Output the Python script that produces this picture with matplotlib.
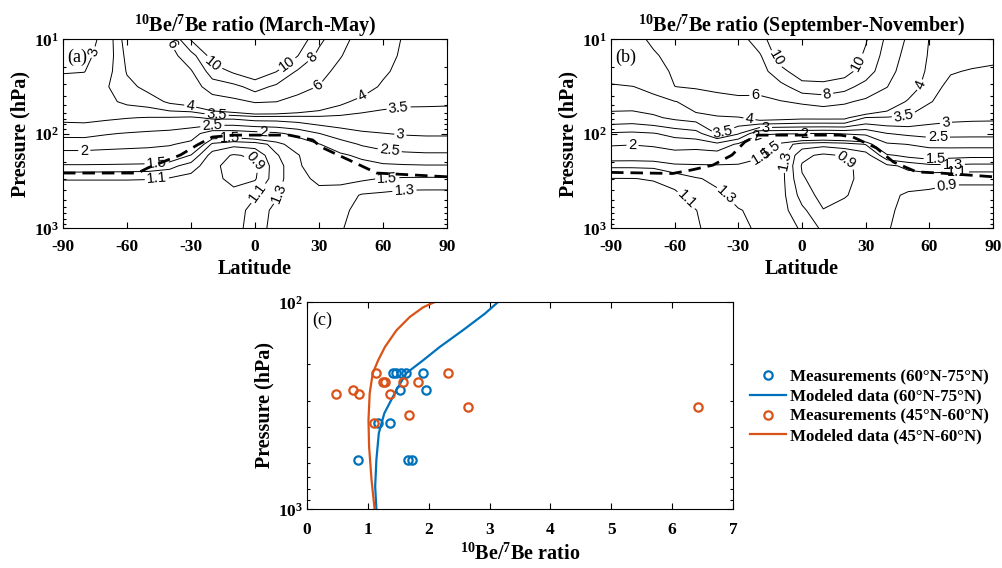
import numpy as np
import matplotlib.pyplot as plt
from matplotlib.ticker import LogLocator, NullFormatter

# Times-like bold for axis text, Arial-like for contour labels
plt.rcParams['font.family'] = ['Liberation Sans', 'DejaVu Sans']
plt.rcParams['mathtext.fontset'] = 'custom'
plt.rcParams['mathtext.rm'] = 'Liberation Serif:bold'
plt.rcParams['mathtext.it'] = 'Liberation Serif:bold'
plt.rcParams['mathtext.bf'] = 'Liberation Serif:bold'
plt.rcParams['axes.unicode_minus'] = False
serif = 'Liberation Serif'

# ---------------- zonal mean 10Be/7Be ratio ----------------
lat = [-90, -80, -70, -60, -50, -40, -30, -20, -10, 0, 10, 20, 30, 40, 50, 60, 70, 80, 90]
pres = [10, 15, 22, 32, 46, 68, 100, 130, 170, 220, 300, 450, 650, 1000]
levels = [0.9, 1.1, 1.3, 1.5, 2, 2.5, 3, 3.5, 4, 6, 8, 10]

# March-May, one row per pressure level
ratio_mam = [
    [2.7, 2.88, 3.08, 4.3, 4.8, 6.05, 10.2, 12.5, 13.5, 14, 13, 11.5, 8.5, 6.6, 5.3, 4.5, 3.9, 3.8, 3.75],
    [2.85, 2.93, 3.12, 4.15, 4.6, 5.3, 7.13, 10.9, 12.0, 13, 12, 10.05, 7.4, 6.1, 5.0, 4.3, 3.85, 3.75, 3.7],
    [2.97, 2.99, 3.25, 4.04, 4.4, 4.8, 5.81, 8.9, 10.3, 11.2, 10.05, 7.74, 6.66, 5.44, 4.7, 4.1, 3.8, 3.7, 3.65],
    [3.2, 3.2, 3.44, 3.85, 4.15, 4.4, 5.05, 6.9, 7.38, 8.8, 7.57, 6.69, 5.89, 4.78, 4.3, 3.9, 3.7, 3.65, 3.6],
    [3.3, 3.32, 3.38, 3.6, 3.73, 4.1, 4.32, 5.0, 5.51, 6.15, 6.02, 5.3, 4.66, 4.15, 3.81, 3.64, 3.57, 3.56, 3.55],
    [3.12, 3.14, 3.08, 3.02, 2.98, 2.97, 2.92, 3.1, 3.11, 3.24, 3.24, 3.3, 3.375, 3.37, 3.34, 3.33, 3.33, 3.34, 3.34],
    [2.64, 2.65, 2.54, 2.47, 2.41, 2.35, 2.22, 1.71, 1.7, 1.8, 1.91, 2.14, 2.49, 2.76, 2.93, 2.99, 3.04, 3.06, 3.06],
    [2.22, 2.22, 2.17, 2.13, 2.1, 2.04, 1.88, 1.257, 1.156, 1.19, 1.38, 1.7, 1.98, 2.27, 2.55, 2.68, 2.74, 2.77, 2.77],
    [1.81, 1.81, 1.79, 1.775, 1.75, 1.69, 1.49, 1.0, 0.88, 0.94, 1.28, 1.47, 1.84, 1.92, 2.1, 2.3, 2.38, 2.41, 2.41],
    [1.456, 1.456, 1.45, 1.44, 1.43, 1.37, 1.2, 0.96, 0.8, 0.85, 1.22, 1.45, 1.7, 1.75, 1.82, 1.91, 1.94, 1.96, 1.96],
    [1.108, 1.108, 1.108, 1.108, 1.105, 1.08, 1.02, 0.95, 0.85, 0.88, 1.22, 1.45, 1.535, 1.54, 1.53, 1.49, 1.45, 1.44, 1.44],
    [1.0, 1.0, 1.0, 1.0, 1.0, 0.99, 0.98, 0.98, 0.96, 1.09, 1.28, 1.46, 1.44, 1.42, 1.28, 1.25, 1.22, 1.22, 1.22],
    [0.98, 0.98, 0.98, 0.98, 0.98, 0.97, 0.98, 1.0, 1.0, 1.18, 1.36, 1.47, 1.42, 1.36, 1.22, 1.2, 1.2, 1.2, 1.2],
    [1.0, 1.0, 1.0, 1.0, 1.0, 1.0, 1.0, 1.02, 1.02, 1.2, 1.38, 1.47, 1.42, 1.32, 1.2, 1.2, 1.18, 1.18, 1.18],
]

# September-November
ratio_son = [
    [4.9, 5.3, 6.4, 7.0, 7.2, 7.5, 7.2, 9.0, 12, 13.5, 13.5, 12.5, 10.2, 7.6, 5.7, 3.95, 3.75, 3.7, 3.68],
    [4.6, 4.9, 5.71, 6.8, 7.0, 7.2, 7.0, 7.75, 11, 12.5, 12.5, 11.8, 9.6, 7.2, 5.3, 3.85, 3.62, 3.58, 3.55],
    [4.3, 4.5, 4.94, 6.4, 6.7, 6.9, 6.9, 7.09, 9.37, 11.2, 11.2, 10.8, 8.9, 6.8, 4.9, 3.75, 3.52, 3.48, 3.46],
    [3.92, 3.98, 4.18, 5.98, 6.2, 6.5, 6.7, 6.43, 7.33, 9.08, 9.3, 8.64, 7.27, 6.05, 4.45, 3.62, 3.42, 3.38, 3.38],
    [3.7, 3.72, 3.78, 3.94, 4.5, 5.06, 5.42, 5.62, 5.9, 6.28, 6.67, 6.28, 5.59, 4.65, 3.9, 3.53, 3.32, 3.3, 3.28],
    [3.34, 3.3, 3.42, 3.6, 3.71, 3.85, 3.93, 4.32, 4.24, 4.15, 4.16, 4.15, 3.48, 3.45, 3.43, 3.2, 3.12, 3.09, 3.08],
    [2.44, 2.4, 2.47, 2.66, 2.8, 3.52, 3.05, 2.03, 2.02, 2.02, 1.98, 2.03, 2.1, 2.49, 2.6, 2.67, 2.64, 2.63, 2.63],
    [2.05, 2.02, 2.08, 2.2, 2.18, 2.35, 1.91, 1.78, 1.43, 1.2, 1.16, 1.2, 1.31, 1.93, 2.01, 2.15, 2.18, 2.18, 2.18],
    [1.67, 1.66, 1.68, 1.8, 1.77, 1.75, 1.62, 1.52, 1.4, 0.95, 0.86, 0.92, 1.0, 1.46, 1.57, 1.63, 1.58, 1.56, 1.56],
    [1.33, 1.33, 1.34, 1.43, 1.456, 1.47, 1.475, 1.45, 1.38, 0.88, 0.82, 0.86, 0.96, 1.05, 1.15, 1.24, 1.26, 1.24, 1.24],
    [1.095, 1.097, 1.11, 1.18, 1.284, 1.34, 1.42, 1.4, 1.38, 0.92, 0.8, 0.86, 0.95, 0.97, 0.99, 0.96, 0.92, 0.92, 0.92],
    [1.02, 1.02, 1.03, 1.05, 1.19, 1.26, 1.35, 1.37, 1.38, 1.02, 0.82, 0.89, 0.95, 0.95, 0.87, 0.86, 0.86, 0.86, 0.86],
    [1.0, 1.0, 1.0, 1.02, 1.095, 1.22, 1.29, 1.34, 1.38, 1.15, 0.91, 0.95, 0.97, 0.93, 0.85, 0.85, 0.85, 0.85, 0.85],
    [1.0, 1.0, 1.0, 1.0, 1.07, 1.2, 1.27, 1.32, 1.38, 1.28, 1.05, 1.0, 1.0, 0.91, 0.85, 0.85, 0.85, 0.85, 0.85],
]

# dashed line (tropopause)
trop_lat_mam = [-90, -55, -50, -42, -35, -27, -20, -10, 0, 16, 27, 31, 38, 46, 57, 90]
trop_p_mam = [262, 262, 230, 195, 169, 132, 109, 104, 104, 104, 117, 139, 165, 200, 262, 287]
trop_lat_son = [-90, -61, -52, -42, -33, -27, -21, 0, 18, 24, 35, 43, 54, 65, 90]
trop_p_son = [258, 265, 243, 216, 169, 123, 104, 104, 104, 109, 142, 200, 255, 262, 287]

# where the contour labels sit (lat, hPa)
labpos_mam = [(-74, 14), (-38, 11), (-20, 19), (16, 19.5), (28, 16.6), (30, 32), (-30.5, 54), (52, 46),
              (-18, 63), (-20, 81), (68, 72), (-12, 106), (4, 95), (68, 110), (-80, 155), (63, 162),
              (-46, 220), (-46, 311), (1, 190), (62, 311), (70, 366), (4, 468), (10, 415)]
labpos_son = [(-14, 17), (27, 18), (12, 40), (-22, 41), (55, 30), (48, 66), (68, 85), (64, 112),
              (-25, 75), (-37, 100), (-17, 88), (-21, 108), (1, 104), (-80, 144), (-19, 176),
              (-13, 162), (-10, 190), (17, 245), (63, 191), (71, 216), (73, 264), (68, 339),
              (-54, 490), (-35, 430)]

# ---------------- panel (c): measurements and model profiles ----------------
meas_hi_x = [1.41, 1.47, 1.55, 1.63, 1.90, 1.52, 1.95, 1.17, 1.37, 0.84, 1.66, 1.73]
meas_hi_p = [221, 221, 221, 221, 221, 266, 266, 383, 383, 583, 583, 583]
meas_mid_x = [1.13, 2.31, 1.25, 1.28, 1.58, 1.83, 0.76, 0.85, 0.47, 1.36, 2.65, 6.42, 1.67, 1.10]
meas_mid_p = [221, 221, 243, 243, 243, 243, 266, 279, 279, 279, 321, 321, 351, 383]
model_hi_x = [1.14, 1.12, 1.14, 1.18, 1.27, 1.47, 1.63, 1.91, 2.18, 2.56, 2.92, 3.14]
model_hi_p = [1000, 778, 578, 430, 345, 266, 221, 191, 165, 137, 114, 100]
model_mid_x = [1.11, 1.06, 1.02, 1.01, 1.03, 1.08, 1.17, 1.28, 1.47, 1.69, 1.91, 2.10]
model_mid_p = [1000, 722, 499, 372, 276, 221, 191, 165, 137, 118, 106, 100]

blue = '#0072BD'
orange = '#D95319'

fig = plt.figure(figsize=(10.03, 5.68), dpi=100)
ax_a = fig.add_axes([0.0628, 0.5986, 0.3829, 0.3327])
ax_b = fig.add_axes([0.6092, 0.5986, 0.3809, 0.3327])
ax_c = fig.add_axes([0.3061, 0.1039, 0.4247, 0.3644])

tick_font = dict(fontfamily=serif, fontweight='bold', fontsize=12.5)
label_font = dict(fontfamily=serif, fontweight='bold', fontsize=14.5)

panels = [
    (ax_a, ratio_mam, trop_lat_mam, trop_p_mam, labpos_mam, 'March-May', '(a)'),
    (ax_b, ratio_son, trop_lat_son, trop_p_son, labpos_son, 'September-November', '(b)'),
]
for ax, field, tlat, tp, labpos, season, tag in panels:
    ax.set_yscale('log')
    ax.set_xlim(-90, 90)
    ax.set_ylim(1000, 10)
    cs = ax.contour(lat, pres, np.array(field), levels=levels, colors='k', linewidths=0.7)
    ax.clabel(cs, manual=labpos, fmt='%g', fontsize=10.5, inline=True, inline_spacing=2)
    trop, = ax.plot(tlat, tp, color='k', lw=2.0)
    trop.set_dashes([4.5, 2.5])

    ax.set_xticks(range(-90, 91, 30))
    ax.set_xticklabels([str(v) for v in range(-90, 91, 30)], **tick_font)
    ax.set_yticks([10, 100, 1000])
    ax.set_yticklabels(['$10^{1}$', '$10^{2}$', '$10^{3}$'], fontsize=12.5)
    ax.yaxis.set_minor_locator(LogLocator(base=10, subs=np.arange(2, 10)))
    ax.yaxis.set_minor_formatter(NullFormatter())
    ax.tick_params(which='both', direction='in', top=True, right=True, width=0.8)
    ax.tick_params(which='major', length=4)
    ax.tick_params(axis='x', which='major', pad=8)
    ax.tick_params(axis='y', which='major', pad=3)
    ax.tick_params(which='minor', length=2)
    ax.set_xlabel('Latitude', labelpad=2.5, **label_font)
    ax.set_ylabel('Pressure (hPa)', labelpad=2, **label_font)
    ax.set_title(r'$^{10}$Be/$^{7}$Be ratio (' + season + ')', pad=4, **label_font)
    ax.text(0.012, 0.905, tag, transform=ax.transAxes, ha='left', va='center',
            fontfamily=serif, fontsize=13)

# panel (c)
ax_c.set_yscale('log')
ax_c.plot(meas_hi_x, meas_hi_p, 'o', mfc='none', mec=blue, mew=1.6, ms=6,
          label='Measurements (60°N-75°N)')
ax_c.plot(model_hi_x, model_hi_p, color=blue, lw=1.6, label='Modeled data (60°N-75°N)')
ax_c.plot(meas_mid_x, meas_mid_p, 'o', mfc='none', mec=orange, mew=1.6, ms=6,
          label='Measurements (45°N-60°N)')
ax_c.plot(model_mid_x, model_mid_p, color=orange, lw=1.6, label='Modeled data (45°N-60°N)')
ax_c.set_xlim(0, 7)
ax_c.set_ylim(1000, 100)
ax_c.set_xticks(range(0, 8))
ax_c.set_xticklabels([str(v) for v in range(0, 8)], **tick_font)
ax_c.set_yticks([100, 1000])
ax_c.set_yticklabels(['$10^{2}$', '$10^{3}$'], fontsize=12.5)
ax_c.yaxis.set_minor_locator(LogLocator(base=10, subs=np.arange(2, 10)))
ax_c.yaxis.set_minor_formatter(NullFormatter())
ax_c.tick_params(which='both', direction='in', top=True, right=True, width=0.8)
ax_c.tick_params(which='major', length=4)
ax_c.tick_params(axis='x', which='major', pad=9.5)
ax_c.tick_params(axis='y', which='major', pad=3)
ax_c.tick_params(which='minor', length=2)
ax_c.set_xlabel(r'$^{10}$Be/$^{7}$Be ratio', labelpad=4, **label_font)
ax_c.set_ylabel('Pressure (hPa)', labelpad=2, **label_font)
ax_c.text(0.012, 0.913, '(c)', transform=ax_c.transAxes, ha='left', va='center',
          fontfamily=serif, fontsize=13)

fig.legend(*ax_c.get_legend_handles_labels(), loc='center left',
           bbox_to_anchor=(0.733, 0.284), frameon=False,
           prop={'family': serif, 'weight': 'bold', 'size': 12.2},
           handlelength=2.1, handletextpad=0.25, labelspacing=0.22)

fig.savefig('out.png', dpi=100)
